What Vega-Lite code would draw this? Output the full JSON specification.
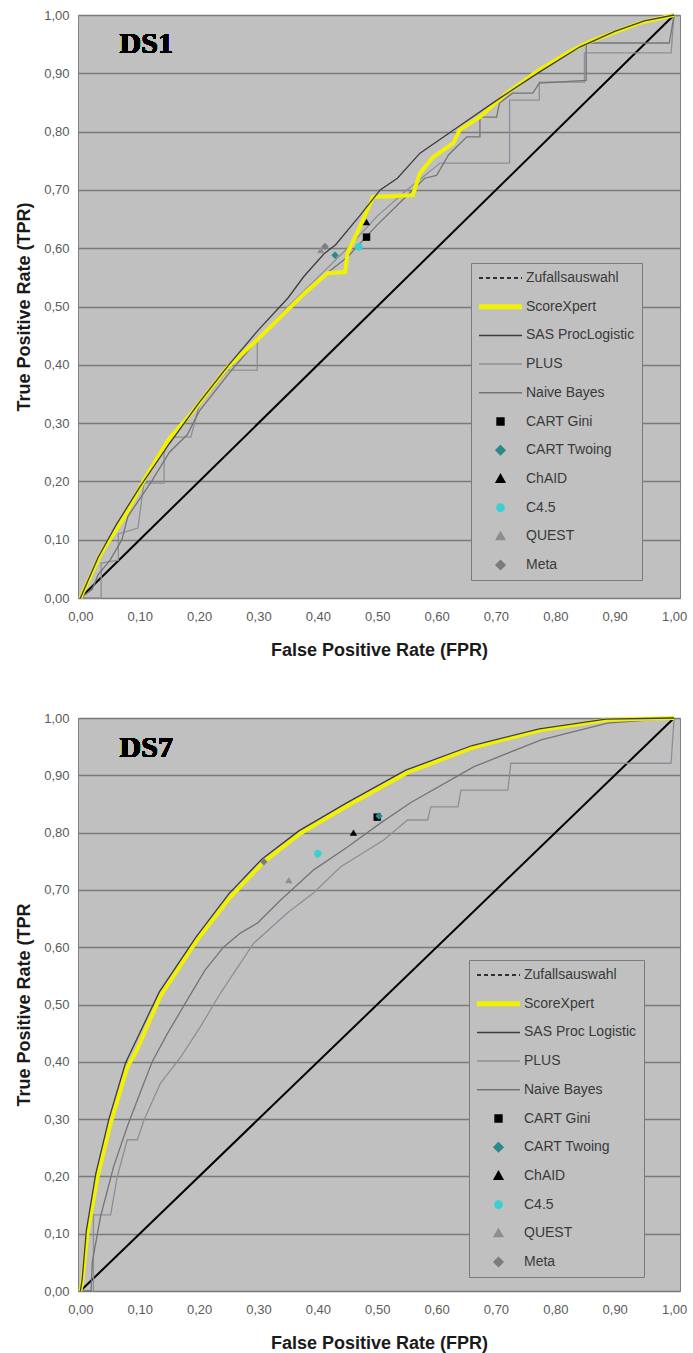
{
  "$schema": "https://vega.github.io/schema/vega-lite/v6.json",
  "background": "white",
  "padding": {"left": 15, "top": 6, "right": 0, "bottom": 0},
  "spacing": 49,
  "config": {
    "view": {"fill": "#c0c0c0", "stroke": "#808080", "strokeWidth": 1},
    "axis": {
      "labelFont": "Liberation Sans", "labelFontSize": 13, "labelColor": "#5a5a5a",
      "titleFont": "Liberation Sans", "titleFontSize": 18, "titleFontWeight": "bold", "titleColor": "#1a1a1a",
      "domain": false, "ticks": false, "labelFlush": false, "labelOverlap": false
    },
    "axisX": {"grid": false, "labelPadding": 12, "titlePadding": 18},
    "axisY": {"grid": true, "gridColor": "#7a7a7a", "gridWidth": 1.3, "gridOpacity": 1, "labelPadding": 9, "titlePadding": 10},
    "legend": {
      "orient": "none", "title": null, "padding": 7, "strokeColor": "#7a7a7a", "strokeWidth": 1,
      "fillColor": "#c0c0c0", "cornerRadius": 0, "symbolSize": 1849, "clipHeight": 16, "rowPadding": 12.7,
      "labelOffset": 3, "labelFont": "Liberation Sans", "labelFontSize": 14, "labelColor": "#3a3a3a", "labelLimit": 250
    }
  },
  "datasets": {
    "ds1": [
      {"s": "Zufallsauswahl", "x": 0, "y": 0}, {"s": "Zufallsauswahl", "x": 1, "y": 1},
      {"s": "PLUS", "x": 0, "y": 0}, {"s": "PLUS", "x": 0.035, "y": 0}, {"s": "PLUS", "x": 0.035, "y": 0.06}, {"s": "PLUS", "x": 0.064, "y": 0.065}, {"s": "PLUS", "x": 0.064, "y": 0.11}, {"s": "PLUS", "x": 0.097, "y": 0.12}, {"s": "PLUS", "x": 0.107, "y": 0.197}, {"s": "PLUS", "x": 0.141, "y": 0.197}, {"s": "PLUS", "x": 0.141, "y": 0.25}, {"s": "PLUS", "x": 0.153, "y": 0.276}, {"s": "PLUS", "x": 0.186, "y": 0.276}, {"s": "PLUS", "x": 0.2, "y": 0.33}, {"s": "PLUS", "x": 0.248, "y": 0.391}, {"s": "PLUS", "x": 0.298, "y": 0.391}, {"s": "PLUS", "x": 0.298, "y": 0.443}, {"s": "PLUS", "x": 0.35, "y": 0.5}, {"s": "PLUS", "x": 0.4, "y": 0.55}, {"s": "PLUS", "x": 0.45, "y": 0.6}, {"s": "PLUS", "x": 0.5, "y": 0.655}, {"s": "PLUS", "x": 0.55, "y": 0.7}, {"s": "PLUS", "x": 0.606, "y": 0.746}, {"s": "PLUS", "x": 0.723, "y": 0.746}, {"s": "PLUS", "x": 0.723, "y": 0.854}, {"s": "PLUS", "x": 0.773, "y": 0.854}, {"s": "PLUS", "x": 0.773, "y": 0.885}, {"s": "PLUS", "x": 0.849, "y": 0.885}, {"s": "PLUS", "x": 0.849, "y": 0.935}, {"s": "PLUS", "x": 0.995, "y": 0.935}, {"s": "PLUS", "x": 1, "y": 1},
      {"s": "Naive Bayes", "x": 0, "y": 0}, {"s": "Naive Bayes", "x": 0.02, "y": 0.015}, {"s": "Naive Bayes", "x": 0.03, "y": 0.04}, {"s": "Naive Bayes", "x": 0.05, "y": 0.065}, {"s": "Naive Bayes", "x": 0.07, "y": 0.1}, {"s": "Naive Bayes", "x": 0.08, "y": 0.14}, {"s": "Naive Bayes", "x": 0.1, "y": 0.17}, {"s": "Naive Bayes", "x": 0.12, "y": 0.2}, {"s": "Naive Bayes", "x": 0.15, "y": 0.25}, {"s": "Naive Bayes", "x": 0.18, "y": 0.28}, {"s": "Naive Bayes", "x": 0.2, "y": 0.32}, {"s": "Naive Bayes", "x": 0.25, "y": 0.385}, {"s": "Naive Bayes", "x": 0.3, "y": 0.445}, {"s": "Naive Bayes", "x": 0.35, "y": 0.495}, {"s": "Naive Bayes", "x": 0.4, "y": 0.545}, {"s": "Naive Bayes", "x": 0.45, "y": 0.585}, {"s": "Naive Bayes", "x": 0.5, "y": 0.64}, {"s": "Naive Bayes", "x": 0.55, "y": 0.69}, {"s": "Naive Bayes", "x": 0.58, "y": 0.72}, {"s": "Naive Bayes", "x": 0.6, "y": 0.725}, {"s": "Naive Bayes", "x": 0.62, "y": 0.76}, {"s": "Naive Bayes", "x": 0.651, "y": 0.791}, {"s": "Naive Bayes", "x": 0.673, "y": 0.791}, {"s": "Naive Bayes", "x": 0.673, "y": 0.825}, {"s": "Naive Bayes", "x": 0.701, "y": 0.825}, {"s": "Naive Bayes", "x": 0.706, "y": 0.849}, {"s": "Naive Bayes", "x": 0.728, "y": 0.866}, {"s": "Naive Bayes", "x": 0.762, "y": 0.866}, {"s": "Naive Bayes", "x": 0.773, "y": 0.883}, {"s": "Naive Bayes", "x": 0.852, "y": 0.888}, {"s": "Naive Bayes", "x": 0.852, "y": 0.952}, {"s": "Naive Bayes", "x": 0.992, "y": 0.952}, {"s": "Naive Bayes", "x": 1, "y": 1},
      {"s": "ScoreXpert", "x": 0, "y": 0}, {"s": "ScoreXpert", "x": 0.035, "y": 0.077}, {"s": "ScoreXpert", "x": 0.074, "y": 0.139}, {"s": "ScoreXpert", "x": 0.107, "y": 0.202}, {"s": "ScoreXpert", "x": 0.148, "y": 0.271}, {"s": "ScoreXpert", "x": 0.191, "y": 0.322}, {"s": "ScoreXpert", "x": 0.248, "y": 0.396}, {"s": "ScoreXpert", "x": 0.298, "y": 0.443}, {"s": "ScoreXpert", "x": 0.332, "y": 0.477}, {"s": "ScoreXpert", "x": 0.38, "y": 0.525}, {"s": "ScoreXpert", "x": 0.416, "y": 0.557}, {"s": "ScoreXpert", "x": 0.446, "y": 0.559}, {"s": "ScoreXpert", "x": 0.45, "y": 0.592}, {"s": "ScoreXpert", "x": 0.466, "y": 0.626}, {"s": "ScoreXpert", "x": 0.493, "y": 0.688}, {"s": "ScoreXpert", "x": 0.56, "y": 0.691}, {"s": "ScoreXpert", "x": 0.572, "y": 0.729}, {"s": "ScoreXpert", "x": 0.594, "y": 0.756}, {"s": "ScoreXpert", "x": 0.628, "y": 0.78}, {"s": "ScoreXpert", "x": 0.639, "y": 0.803}, {"s": "ScoreXpert", "x": 0.673, "y": 0.825}, {"s": "ScoreXpert", "x": 0.718, "y": 0.866}, {"s": "ScoreXpert", "x": 0.773, "y": 0.906}, {"s": "ScoreXpert", "x": 0.829, "y": 0.94}, {"s": "ScoreXpert", "x": 0.857, "y": 0.954}, {"s": "ScoreXpert", "x": 0.941, "y": 0.986}, {"s": "ScoreXpert", "x": 1, "y": 1},
      {"s": "SAS ProcLogistic", "x": 0, "y": 0}, {"s": "SAS ProcLogistic", "x": 0.03, "y": 0.07}, {"s": "SAS ProcLogistic", "x": 0.06, "y": 0.125}, {"s": "SAS ProcLogistic", "x": 0.1, "y": 0.19}, {"s": "SAS ProcLogistic", "x": 0.15, "y": 0.265}, {"s": "SAS ProcLogistic", "x": 0.2, "y": 0.335}, {"s": "SAS ProcLogistic", "x": 0.25, "y": 0.4}, {"s": "SAS ProcLogistic", "x": 0.3, "y": 0.46}, {"s": "SAS ProcLogistic", "x": 0.35, "y": 0.515}, {"s": "SAS ProcLogistic", "x": 0.376, "y": 0.551}, {"s": "SAS ProcLogistic", "x": 0.41, "y": 0.59}, {"s": "SAS ProcLogistic", "x": 0.43, "y": 0.606}, {"s": "SAS ProcLogistic", "x": 0.47, "y": 0.655}, {"s": "SAS ProcLogistic", "x": 0.505, "y": 0.7}, {"s": "SAS ProcLogistic", "x": 0.534, "y": 0.72}, {"s": "SAS ProcLogistic", "x": 0.572, "y": 0.763}, {"s": "SAS ProcLogistic", "x": 0.639, "y": 0.81}, {"s": "SAS ProcLogistic", "x": 0.706, "y": 0.857}, {"s": "SAS ProcLogistic", "x": 0.773, "y": 0.902}, {"s": "SAS ProcLogistic", "x": 0.841, "y": 0.945}, {"s": "SAS ProcLogistic", "x": 0.9, "y": 0.972}, {"s": "SAS ProcLogistic", "x": 0.95, "y": 0.99}, {"s": "SAS ProcLogistic", "x": 1, "y": 1},
      {"s": "QUEST", "x": 0.405, "y": 0.597}, {"s": "Meta", "x": 0.412, "y": 0.603}, {"s": "CART Twoing", "x": 0.429, "y": 0.588}, {"s": "C4.5", "x": 0.469, "y": 0.602}, {"s": "CART Gini", "x": 0.482, "y": 0.619}, {"s": "ChAID", "x": 0.482, "y": 0.645}
    ],
    "ds7": [
      {"s": "Zufallsauswahl", "x": 0, "y": 0}, {"s": "Zufallsauswahl", "x": 1, "y": 1},
      {"s": "PLUS", "x": 0, "y": 0}, {"s": "PLUS", "x": 0.022, "y": 0}, {"s": "PLUS", "x": 0.022, "y": 0.133}, {"s": "PLUS", "x": 0.051, "y": 0.133}, {"s": "PLUS", "x": 0.062, "y": 0.199}, {"s": "PLUS", "x": 0.079, "y": 0.264}, {"s": "PLUS", "x": 0.096, "y": 0.264}, {"s": "PLUS", "x": 0.107, "y": 0.298}, {"s": "PLUS", "x": 0.135, "y": 0.363}, {"s": "PLUS", "x": 0.169, "y": 0.408}, {"s": "PLUS", "x": 0.202, "y": 0.461}, {"s": "PLUS", "x": 0.236, "y": 0.52}, {"s": "PLUS", "x": 0.292, "y": 0.607}, {"s": "PLUS", "x": 0.349, "y": 0.66}, {"s": "PLUS", "x": 0.393, "y": 0.695}, {"s": "PLUS", "x": 0.438, "y": 0.74}, {"s": "PLUS", "x": 0.511, "y": 0.787}, {"s": "PLUS", "x": 0.551, "y": 0.822}, {"s": "PLUS", "x": 0.585, "y": 0.822}, {"s": "PLUS", "x": 0.59, "y": 0.845}, {"s": "PLUS", "x": 0.636, "y": 0.845}, {"s": "PLUS", "x": 0.641, "y": 0.874}, {"s": "PLUS", "x": 0.72, "y": 0.874}, {"s": "PLUS", "x": 0.725, "y": 0.921}, {"s": "PLUS", "x": 0.995, "y": 0.921}, {"s": "PLUS", "x": 1, "y": 1},
      {"s": "Naive Bayes", "x": 0, "y": 0}, {"s": "Naive Bayes", "x": 0.018, "y": 0}, {"s": "Naive Bayes", "x": 0.02, "y": 0.05}, {"s": "Naive Bayes", "x": 0.034, "y": 0.13}, {"s": "Naive Bayes", "x": 0.056, "y": 0.217}, {"s": "Naive Bayes", "x": 0.079, "y": 0.287}, {"s": "Naive Bayes", "x": 0.107, "y": 0.363}, {"s": "Naive Bayes", "x": 0.121, "y": 0.4}, {"s": "Naive Bayes", "x": 0.147, "y": 0.45}, {"s": "Naive Bayes", "x": 0.18, "y": 0.508}, {"s": "Naive Bayes", "x": 0.21, "y": 0.56}, {"s": "Naive Bayes", "x": 0.241, "y": 0.6}, {"s": "Naive Bayes", "x": 0.27, "y": 0.625}, {"s": "Naive Bayes", "x": 0.298, "y": 0.642}, {"s": "Naive Bayes", "x": 0.337, "y": 0.682}, {"s": "Naive Bayes", "x": 0.393, "y": 0.735}, {"s": "Naive Bayes", "x": 0.45, "y": 0.775}, {"s": "Naive Bayes", "x": 0.506, "y": 0.817}, {"s": "Naive Bayes", "x": 0.556, "y": 0.852}, {"s": "Naive Bayes", "x": 0.663, "y": 0.915}, {"s": "Naive Bayes", "x": 0.776, "y": 0.962}, {"s": "Naive Bayes", "x": 0.888, "y": 0.991}, {"s": "Naive Bayes", "x": 1, "y": 1},
      {"s": "ScoreXpert", "x": 0, "y": 0}, {"s": "ScoreXpert", "x": 0.003, "y": 0.014}, {"s": "ScoreXpert", "x": 0.012, "y": 0.101}, {"s": "ScoreXpert", "x": 0.029, "y": 0.199}, {"s": "ScoreXpert", "x": 0.051, "y": 0.293}, {"s": "ScoreXpert", "x": 0.079, "y": 0.39}, {"s": "ScoreXpert", "x": 0.095, "y": 0.42}, {"s": "ScoreXpert", "x": 0.118, "y": 0.475}, {"s": "ScoreXpert", "x": 0.135, "y": 0.515}, {"s": "ScoreXpert", "x": 0.197, "y": 0.613}, {"s": "ScoreXpert", "x": 0.253, "y": 0.688}, {"s": "ScoreXpert", "x": 0.309, "y": 0.749}, {"s": "ScoreXpert", "x": 0.371, "y": 0.799}, {"s": "ScoreXpert", "x": 0.45, "y": 0.847}, {"s": "ScoreXpert", "x": 0.551, "y": 0.905}, {"s": "ScoreXpert", "x": 0.663, "y": 0.949}, {"s": "ScoreXpert", "x": 0.776, "y": 0.979}, {"s": "ScoreXpert", "x": 0.888, "y": 0.997}, {"s": "ScoreXpert", "x": 1, "y": 1},
      {"s": "SAS Proc Logistic", "x": 0, "y": 0}, {"s": "SAS Proc Logistic", "x": 0.003, "y": 0.02}, {"s": "SAS Proc Logistic", "x": 0.01, "y": 0.105}, {"s": "SAS Proc Logistic", "x": 0.026, "y": 0.205}, {"s": "SAS Proc Logistic", "x": 0.048, "y": 0.3}, {"s": "SAS Proc Logistic", "x": 0.076, "y": 0.398}, {"s": "SAS Proc Logistic", "x": 0.115, "y": 0.483}, {"s": "SAS Proc Logistic", "x": 0.133, "y": 0.522}, {"s": "SAS Proc Logistic", "x": 0.195, "y": 0.618}, {"s": "SAS Proc Logistic", "x": 0.25, "y": 0.693}, {"s": "SAS Proc Logistic", "x": 0.306, "y": 0.754}, {"s": "SAS Proc Logistic", "x": 0.368, "y": 0.803}, {"s": "SAS Proc Logistic", "x": 0.447, "y": 0.851}, {"s": "SAS Proc Logistic", "x": 0.548, "y": 0.909}, {"s": "SAS Proc Logistic", "x": 0.66, "y": 0.952}, {"s": "SAS Proc Logistic", "x": 0.773, "y": 0.981}, {"s": "SAS Proc Logistic", "x": 0.885, "y": 0.998}, {"s": "SAS Proc Logistic", "x": 1, "y": 1},
      {"s": "Meta", "x": 0.309, "y": 0.749}, {"s": "QUEST", "x": 0.351, "y": 0.717}, {"s": "C4.5", "x": 0.4, "y": 0.763}, {"s": "CART Gini", "x": 0.5, "y": 0.827}, {"s": "ChAID", "x": 0.46, "y": 0.8}, {"s": "CART Twoing", "x": 0.503, "y": 0.829}
    ]
  },
  "vconcat": [
    {
      "width": 602, "height": 583,
      "data": {"name": "ds1"},
      "encoding": {
        "x": {"field": "x", "type": "quantitative", "scale": {"domain": [-0.004, 1.01], "nice": false, "zero": false}, "axis": {"title": "False Positive Rate (FPR)", "values": [0, 0.1, 0.2, 0.3, 0.4, 0.5, 0.6, 0.7, 0.8, 0.9, 1.0], "labelExpr": "replace(format(datum.value, '.2f'), '.', ',')"}},
        "y": {"field": "y", "type": "quantitative", "scale": {"domain": [0, 1], "nice": false}, "axis": {"title": "True Positive Rate (TPR)", "values": [0, 0.1, 0.2, 0.3, 0.4, 0.5, 0.6, 0.7, 0.8, 0.9, 1.0], "labelExpr": "replace(format(datum.value, '.2f'), '.', ',')"}},
        "order": {"value": null}
      },
      "layer": [
        {
          "transform": [{"filter": "datum.s == 'Zufallsauswahl'"}],
          "mark": {"type": "line", "strokeWidth": 2},
          "encoding": {
            "color": {
              "field": "s", "type": "nominal",
              "scale": {"domain": ["Zufallsauswahl", "ScoreXpert", "SAS ProcLogistic", "PLUS", "Naive Bayes", "CART Gini", "CART Twoing", "ChAID", "C4.5", "QUEST", "Meta"], "range": ["#000000", "#f2f200", "#3c3c3c", "#8e8e9a", "#747474", "#000000", "#2a8a8a", "#000000", "#3ccfcf", "#8e8e8e", "#7c7c7c"]},
              "legend": {
                "legendX": 393, "legendY": 248,
                "encode": {"symbols": {"update": {
                  "shape": {"signal": "(indexof(['Zufallsauswahl','ScoreXpert','SAS ProcLogistic','PLUS','Naive Bayes'], datum.value) >= 0 ? 'stroke' : datum.value == 'CART Gini' ? 'M-0.16,-0.16H0.16V0.16H-0.16Z' : (datum.value == 'ChAID' || datum.value == 'QUEST') ? 'M0,-0.2L0.2,0.15L-0.2,0.15Z' : datum.value == 'C4.5' ? 'M-0.17,0A0.17,0.17,0,1,1,0.17,0A0.17,0.17,0,1,1,-0.17,0Z' : 'M0,-0.21L0.21,0L0,0.21L-0.21,0Z')"},
                  "size": {"value": 1849},
                  "stroke": {"signal": "(indexof(['Zufallsauswahl','ScoreXpert','SAS ProcLogistic','PLUS','Naive Bayes'], datum.value) >= 0 ? ['#000000','#f2f200','#3c3c3c','#8e8e9a','#747474'][indexof(['Zufallsauswahl','ScoreXpert','SAS ProcLogistic','PLUS','Naive Bayes'], datum.value)] : 'transparent')"},
                  "fill": {"signal": "(indexof(['CART Gini','CART Twoing','ChAID','C4.5','QUEST','Meta'], datum.value) >= 0 ? ['#000000','#2a8a8a','#000000','#3ccfcf','#8e8e8e','#7c7c7c'][indexof(['CART Gini','CART Twoing','ChAID','C4.5','QUEST','Meta'], datum.value)] : 'transparent')"},
                  "strokeWidth": {"signal": "(datum.value == 'ScoreXpert' ? 5 : 1.5)"},
                  "strokeDash": {"signal": "(datum.value == 'Zufallsauswahl' ? [4, 3] : [])"},
                  "opacity": {"value": 1}
                }}}
              }
            }
          }
        },
        {
          "transform": [{"filter": "datum.s == 'PLUS' || datum.s == 'Naive Bayes'"}],
          "mark": {"type": "line", "strokeWidth": 1.3},
          "encoding": {"color": {"field": "s", "type": "nominal"}}
        },
        {
          "transform": [{"filter": "datum.s == 'ScoreXpert'"}],
          "mark": {"type": "line", "strokeWidth": 4},
          "encoding": {"color": {"field": "s", "type": "nominal"}}
        },
        {
          "transform": [{"filter": "datum.s == 'SAS ProcLogistic'"}],
          "mark": {"type": "line", "strokeWidth": 1.3},
          "encoding": {"color": {"field": "s", "type": "nominal"}}
        },
        {
          "transform": [{"filter": "indexof(['CART Gini','CART Twoing','ChAID','C4.5','QUEST','Meta'], datum.s) >= 0"}],
          "mark": {"type": "point", "filled": true, "size": 55, "opacity": 1},
          "encoding": {
            "color": {"field": "s", "type": "nominal"},
            "shape": {"field": "s", "type": "nominal", "scale": {"domain": ["CART Gini", "CART Twoing", "ChAID", "C4.5", "QUEST", "Meta"], "range": ["square", "diamond", "triangle-up", "circle", "triangle-up", "diamond"]}, "legend": null}
          }
        },
        {
          "mark": {"type": "text", "align": "left", "baseline": "alphabetic", "font": "Liberation Serif", "fontSize": 30, "fontWeight": "bold", "color": "#000000"},
          "encoding": {"x": {"datum": 0.066}, "y": {"datum": 0.935}, "text": {"value": "DS1"}}
        }
      ]
    },
    {
      "width": 602, "height": 573,
      "data": {"name": "ds7"},
      "encoding": {
        "x": {"field": "x", "type": "quantitative", "scale": {"domain": [-0.004, 1.01], "nice": false, "zero": false}, "axis": {"title": "False Positive Rate (FPR)", "values": [0, 0.1, 0.2, 0.3, 0.4, 0.5, 0.6, 0.7, 0.8, 0.9, 1.0], "labelExpr": "replace(format(datum.value, '.2f'), '.', ',')"}},
        "y": {"field": "y", "type": "quantitative", "scale": {"domain": [0, 1], "nice": false}, "axis": {"title": "True Positive Rate (TPR", "values": [0, 0.1, 0.2, 0.3, 0.4, 0.5, 0.6, 0.7, 0.8, 0.9, 1.0], "labelExpr": "replace(format(datum.value, '.2f'), '.', ',')"}},
        "order": {"value": null}
      },
      "layer": [
        {
          "transform": [{"filter": "datum.s == 'Zufallsauswahl'"}],
          "mark": {"type": "line", "strokeWidth": 2},
          "encoding": {
            "color": {
              "field": "s", "type": "nominal",
              "scale": {"domain": ["Zufallsauswahl", "ScoreXpert", "SAS Proc Logistic", "PLUS", "Naive Bayes", "CART Gini", "CART Twoing", "ChAID", "C4.5", "QUEST", "Meta"], "range": ["#000000", "#f2f200", "#3c3c3c", "#8e8e9a", "#747474", "#000000", "#2a8a8a", "#000000", "#3ccfcf", "#8e8e8e", "#7c7c7c"]},
              "legend": {
                "legendX": 391, "legendY": 242,
                "encode": {"symbols": {"update": {
                  "shape": {"signal": "(indexof(['Zufallsauswahl','ScoreXpert','SAS Proc Logistic','PLUS','Naive Bayes'], datum.value) >= 0 ? 'stroke' : datum.value == 'CART Gini' ? 'M-0.16,-0.16H0.16V0.16H-0.16Z' : (datum.value == 'ChAID' || datum.value == 'QUEST') ? 'M0,-0.2L0.2,0.15L-0.2,0.15Z' : datum.value == 'C4.5' ? 'M-0.17,0A0.17,0.17,0,1,1,0.17,0A0.17,0.17,0,1,1,-0.17,0Z' : 'M0,-0.21L0.21,0L0,0.21L-0.21,0Z')"},
                  "size": {"value": 1849},
                  "stroke": {"signal": "(indexof(['Zufallsauswahl','ScoreXpert','SAS Proc Logistic','PLUS','Naive Bayes'], datum.value) >= 0 ? ['#000000','#f2f200','#3c3c3c','#8e8e9a','#747474'][indexof(['Zufallsauswahl','ScoreXpert','SAS Proc Logistic','PLUS','Naive Bayes'], datum.value)] : 'transparent')"},
                  "fill": {"signal": "(indexof(['CART Gini','CART Twoing','ChAID','C4.5','QUEST','Meta'], datum.value) >= 0 ? ['#000000','#2a8a8a','#000000','#3ccfcf','#8e8e8e','#7c7c7c'][indexof(['CART Gini','CART Twoing','ChAID','C4.5','QUEST','Meta'], datum.value)] : 'transparent')"},
                  "strokeWidth": {"signal": "(datum.value == 'ScoreXpert' ? 5 : 1.5)"},
                  "strokeDash": {"signal": "(datum.value == 'Zufallsauswahl' ? [4, 3] : [])"},
                  "opacity": {"value": 1}
                }}}
              }
            }
          }
        },
        {
          "transform": [{"filter": "datum.s == 'PLUS' || datum.s == 'Naive Bayes'"}],
          "mark": {"type": "line", "strokeWidth": 1.3},
          "encoding": {"color": {"field": "s", "type": "nominal"}}
        },
        {
          "transform": [{"filter": "datum.s == 'ScoreXpert'"}],
          "mark": {"type": "line", "strokeWidth": 4},
          "encoding": {"color": {"field": "s", "type": "nominal"}}
        },
        {
          "transform": [{"filter": "datum.s == 'SAS Proc Logistic'"}],
          "mark": {"type": "line", "strokeWidth": 1.3},
          "encoding": {"color": {"field": "s", "type": "nominal"}}
        },
        {
          "transform": [{"filter": "indexof(['CART Gini','CART Twoing','ChAID','C4.5','QUEST','Meta'], datum.s) >= 0"}],
          "mark": {"type": "point", "filled": true, "size": 55, "opacity": 1},
          "encoding": {
            "color": {"field": "s", "type": "nominal"},
            "shape": {"field": "s", "type": "nominal", "scale": {"domain": ["CART Gini", "CART Twoing", "ChAID", "C4.5", "QUEST", "Meta"], "range": ["square", "diamond", "triangle-up", "circle", "triangle-up", "diamond"]}, "legend": null}
          }
        },
        {
          "mark": {"type": "text", "align": "left", "baseline": "alphabetic", "font": "Liberation Serif", "fontSize": 30, "fontWeight": "bold", "color": "#000000"},
          "encoding": {"x": {"datum": 0.066}, "y": {"datum": 0.932}, "text": {"value": "DS7"}}
        }
      ]
    }
  ],
  "resolve": {"scale": {"color": "independent", "shape": "independent", "x": "independent", "y": "independent"}, "legend": {"color": "independent"}}
}
